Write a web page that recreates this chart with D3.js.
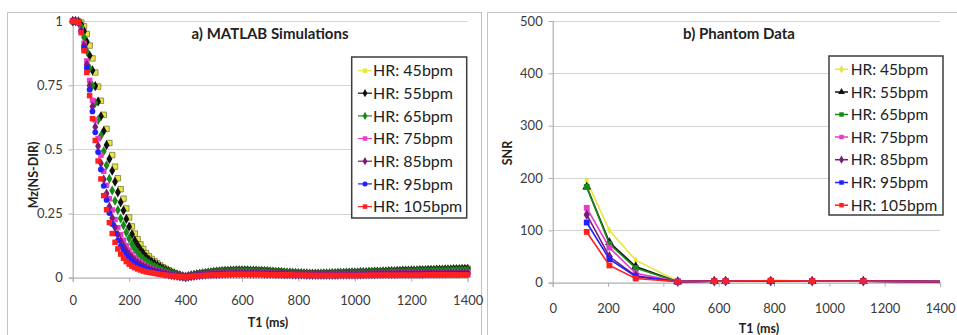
<!DOCTYPE html>
<html><head><meta charset="utf-8">
<script src="https://cdn.jsdelivr.net/npm/d3@7"></script>
<style>
body{margin:0;background:#fff;}
svg{display:block;font-family:Lato,"Open Sans",sans-serif;}
</style>
</head><body>
<svg id="c" width="957" height="335"></svg>
<script>
// ---------- DATA ----------
const seriesNames = ["HR: 45bpm","HR: 55bpm","HR: 65bpm","HR: 75bpm","HR: 85bpm","HR: 95bpm","HR: 105bpm"];
const xTicks = [0,200,400,600,800,1000,1200,1400];
const yTicksA = [0,0.25,0.5,0.75,1];
const yTicksB = [0,100,200,300,400,500];

// a) MATLAB simulations: Mz(NS-DIR) sampled every 10 ms of T1, 0..1400 ms
const simT1 = d3.range(0, 1401, 10);
const sim45 = [1,1,1,.995,.98,.95,.905,.855,.8,.745,.69,.635,.58,.525,.478,.433,.388,.345,.308,.27,.235,.2,.172,.15,.13,.112,.096,.084,.073,.064,.056,.048,.041,.035,.029,.023,.018,.014,.01,.006,.004,
 .006,.009,.011,.014,.016,.018,.019,.021,.022,.024,.025,.026,.027,.028,.029,.029,.03,.03,.03,.03,
 .03,.03,.029,.029,.029,.028,.028,.027,.027,.026,.025,.024,.024,.023,.022,.021,.02,.02,.019,.018,
 .018,.017,.017,.016,.016,.016,.016,.016,.017,.017,
 .017,.018,.018,.019,.019,.019,.02,.02,.021,.021,.021,.022,.022,.022,.023,.023,.024,.024,.024,.025,
 .025,.026,.026,.026,.027,.027,.028,.028,.028,.029,.029,.029,.03,.03,.03,.031,.031,.031,.032,.032,
 .032,.033,.033,.033,.034,.034,.034,.035,.035,.035];
const sim55 = [1,1,.999,.987,.961,.92,.866,.808,.747,.687,.629,.572,.517,.463,.417,.374,.333,.294,.262,.229,.199,.169,.145,.127,.11,.095,.081,.071,.062,.055,.048,.041,.035,.03,.025,.02,.016,.012,.009,.005,.004,
 .006,.009,.011,.013,.015,.017,.018,.02,.021,.023,.024,.025,.026,.027,.027,.028,.028,.029,.029,.029,
 .029,.029,.028,.028,.028,.027,.027,.026,.026,.025,.024,.023,.023,.022,.021,.02,.02,.019,.019,.018,
 .018,.017,.017,.016,.016,.016,.016,.016,.017,.017,
 .017,.018,.018,.019,.019,.019,.02,.02,.021,.021,.021,.022,.022,.022,.023,.023,.024,.024,.024,.025,
 .025,.026,.026,.026,.027,.027,.028,.028,.028,.029,.029,.029,.03,.03,.03,.031,.031,.031,.032,.032,
 .032,.033,.033,.033,.034,.034,.034,.035,.035,.035];
const sim65 = [1,1,.998,.977,.937,.883,.817,.749,.681,.615,.553,.493,.438,.386,.34,.3,.264,.231,.204,.177,.153,.13,.112,.098,.085,.073,.063,.056,.049,.043,.038,.032,.028,.024,.02,.016,.013,.01,.007,.005,.003,
 .005,.007,.009,.011,.013,.015,.016,.017,.019,.02,.021,.022,.023,.023,.024,.024,.025,.025,.025,.025,
 .025,.025,.025,.024,.024,.024,.023,.023,.022,.022,.021,.021,.02,.019,.019,.018,.018,.017,.017,.016,
 .016,.015,.015,.014,.014,.014,.014,.015,.015,.015,
 .015,.016,.016,.016,.017,.017,.017,.017,.018,.018,.018,.018,.019,.019,.019,.02,.02,.02,.021,.021,
 .021,.021,.022,.022,.022,.023,.023,.023,.024,.024,.024,.025,.025,.025,.026,.026,.026,.027,.027,.027,
 .027,.027,.028,.028,.028,.028,.029,.029,.029,.029];
const sim75 = [1,1,.997,.967,.914,.845,.769,.691,.615,.542,.477,.415,.36,.308,.264,.227,.195,.168,.146,.125,.108,.092,.079,.069,.06,.052,.045,.04,.035,.031,.027,.024,.021,.018,.015,.012,.01,.008,.006,.004,.003,
 .005,.006,.008,.009,.011,.012,.013,.014,.015,.016,.017,.017,.018,.018,.019,.019,.02,.02,.02,.02,
 .02,.02,.019,.019,.019,.019,.018,.018,.017,.017,.017,.016,.016,.015,.015,.015,.014,.014,.013,.013,
 .013,.013,.012,.012,.012,.012,.012,.012,.012,.012,
 .012,.012,.013,.013,.013,.013,.013,.014,.014,.014,.014,.014,.015,.015,.015,.015,.015,.016,.016,.016,
 .016,.016,.017,.017,.017,.017,.017,.018,.018,.018,.018,.018,.019,.019,.019,.019,.019,.02,.02,.02,
 .02,.02,.021,.021,.021,.021,.021,.022,.022,.022];
const sim85 = [1,1,.996,.963,.904,.83,.749,.667,.588,.513,.446,.383,.328,.277,.233,.197,.167,.143,.122,.104,.089,.076,.066,.057,.05,.043,.038,.034,.03,.026,.023,.02,.018,.015,.013,.01,.008,.007,.005,.004,.002,
 .004,.006,.007,.009,.01,.011,.012,.013,.013,.014,.014,.015,.015,.016,.016,.016,.017,.017,.017,.017,
 .017,.017,.016,.016,.016,.016,.016,.015,.015,.015,.015,.014,.014,.014,.013,.013,.013,.012,.012,.012,
 .012,.012,.011,.011,.011,.011,.011,.011,.011,.011,
 .011,.011,.011,.011,.012,.012,.012,.012,.012,.012,.012,.012,.013,.013,.013,.013,.013,.014,.014,.014,
 .014,.014,.014,.014,.014,.015,.015,.015,.015,.015,.015,.015,.015,.015,.016,.016,.016,.016,.016,.016,
 .016,.016,.017,.017,.017,.017,.017,.018,.018,.018];
const sim95 = [1,1,.996,.96,.896,.818,.733,.648,.567,.49,.422,.358,.303,.252,.209,.173,.145,.122,.104,.088,.075,.064,.055,.048,.042,.036,.032,.029,.025,.023,.02,.017,.015,.013,.011,.009,.007,.006,.005,.003,.002,
 .004,.005,.006,.008,.009,.01,.01,.011,.011,.012,.012,.013,.013,.014,.014,.014,.015,.015,.015,.015,
 .015,.015,.014,.014,.014,.014,.014,.013,.013,.013,.013,.013,.012,.012,.012,.012,.012,.011,.011,.011,
 .011,.011,.01,.01,.01,.01,.01,.01,.01,.01,
 .01,.01,.01,.01,.01,.011,.011,.011,.011,.011,.011,.011,.011,.011,.011,.012,.012,.012,.012,.012,
 .012,.012,.012,.012,.012,.013,.013,.013,.013,.013,.013,.013,.013,.013,.013,.014,.014,.014,.014,.014,
 .014,.014,.014,.014,.014,.015,.015,.015,.015,.015];
const sim105 = [1,1,.995,.955,.885,.8,.71,.62,.535,.455,.385,.32,.265,.215,.172,.138,.112,.092,.076,.063,.053,.045,.039,.034,.03,.026,.023,.021,.019,.017,.015,.013,.012,.01,.009,.007,.006,.005,.004,.003,.002,
 .003,.005,.006,.007,.008,.009,.009,.01,.01,.011,.011,.012,.012,.012,.013,.013,.013,.013,.013,.013,
 .013,.013,.013,.013,.013,.013,.013,.012,.012,.012,.012,.012,.011,.011,.011,.011,.011,.01,.01,.01,
 .01,.01,.01,.009,.009,.009,.009,.009,.009,.009,
 .009,.009,.009,.009,.009,.009,.009,.009,.009,.009,.009,.009,.009,.009,.01,.01,.01,.01,.01,.01,
 .01,.01,.01,.01,.01,.01,.01,.01,.01,.01,.01,.01,.01,.01,.011,.011,.011,.011,.011,.011,
 .011,.011,.011,.011,.011,.011,.011,.011,.011,.011];

// b) Phantom data: SNR vs T1
const phantomT1 = [123,205,300,452,584,625,788,938,1123,1400];
const snr45  = [195,100,43,3,3,3,3,3,3,2];
const snr55  = [183,77,31,2,3,3,3,3,3,2];
const snr65  = [183,74,28,2,3,3,3,3,3,2];
const snr75  = [143,67,18,2,3,3,3,3,3,2];
const snr85  = [130,50,13,2,3,3,3,3,3,2];
const snr95  = [115,45,12,2,3,3,3,3,3,2];
const snr105 = [97,33,8,2,3,3,4,3,3,2];

// ---------- STYLE ----------
const colors = ["#e6e640","#111111","#178a17","#e63cc8","#7a1a7a","#1f1fff","#ff1f1f"];
const symA = [d3.symbolSquare,d3.symbolDiamond,d3.symbolDiamond,d3.symbolSquare,d3.symbolDiamond,d3.symbolCircle,d3.symbolSquare];
const symB = [d3.symbolDiamond,d3.symbolTriangle,d3.symbolSquare,d3.symbolSquare,d3.symbolDiamond,d3.symbolSquare,d3.symbolSquare];
const simSeries = [sim45,sim55,sim65,sim75,sim85,sim95,sim105];
const snrSeries = [snr45,snr55,snr65,snr75,snr85,snr95,snr105];

const svg = d3.select("#c");
svg.append("rect").attr("width",957).attr("height",335).attr("fill","#fff");
svg.append("rect").attr("x",7.5).attr("y",12.5).attr("width",474).attr("height",340)
  .attr("fill","none").attr("stroke","#c4c4c4");
svg.append("rect").attr("x",487.5).attr("y",12.5).attr("width",480).attr("height",340)
  .attr("fill","none").attr("stroke","#c4c4c4");

function panel(opt){
  const g = svg.append("g");
  const x = d3.scaleLinear([0,1400],[opt.x0,opt.x1]);
  const y = d3.scaleLinear(opt.ydom,[opt.y0,opt.y1]);
  g.append("g").selectAll("line").data(opt.yTicks.filter(d=>d!==0)).join("line")
    .attr("x1",opt.x0).attr("x2",opt.x1)
    .attr("y1",d=>Math.round(y(d))+0.5).attr("y2",d=>Math.round(y(d))+0.5)
    .attr("stroke","#d4d4d4").attr("stroke-width",1.2);
  const ya = g.append("g").attr("transform",`translate(${opt.x0},0)`)
    .call(d3.axisLeft(y).tickValues(opt.yTicks).tickSize(4).tickPadding(6).tickFormat(d=>String(d)));
  const xa = g.append("g").attr("transform",`translate(0,${opt.y0})`)
    .call(d3.axisBottom(x).tickValues(xTicks).tickSize(4).tickPadding(opt.xpad).tickFormat(d=>String(d)));
  [ya,xa].forEach(a=>{
    a.select(".domain").attr("stroke","#b0b0b0").attr("stroke-width",1.2);
    a.selectAll(".tick line").attr("stroke","#b0b0b0");
    a.selectAll("text").attr("fill","#3a3a3a").style("font-size","13px").style("font-family","Lato,'Open Sans',sans-serif");
  });
  g.append("text").attr("x",opt.tx).attr("y",opt.ty).attr("text-anchor","middle")
    .attr("font-weight","bold").attr("font-size","15px").attr("fill","#222").text(opt.title);
  g.append("text").attr("x",opt.xtx).attr("y",opt.xty).attr("text-anchor","middle")
    .attr("font-weight","bold").attr("font-size","12.5px").attr("fill","#222").text("T1 (ms)");
  g.append("text").attr("transform",`translate(${opt.ytx},${opt.yty}) rotate(-90)`).attr("text-anchor","middle")
    .attr("font-weight","bold").attr("font-size","12.5px").attr("fill","#222").text(opt.ylabel);
  return {g,x,y};
}

const A = panel({x0:72.7,x1:467.7,y0:277.7,y1:21.2,ydom:[0,1],yTicks:yTicksA,xpad:14,
  tx:270,ty:39,title:"a) MATLAB Simulations",xtx:268,xty:327,ytx:38,yty:175,ylabel:"Mz(NS-DIR)"});
simSeries.forEach((vals,si)=>{
  A.g.append("g").selectAll("path").data(vals).join("path")
    .attr("transform",(d,i)=>`translate(${A.x(simT1[i])},${A.y(d)})`)
    .attr("d",d3.symbol(symA[si], si===5?26:30))
    .attr("fill",colors[si])
    .attr("stroke",si===0?"#6a6a30":"none").attr("stroke-width",0.7);
});
function legend(g,bx,by,bw,bh,lx0,lx1,tx,ys,syms,lineW,fs){
  g.append("rect").attr("x",bx).attr("y",by).attr("width",bw).attr("height",bh)
    .attr("fill","#fff").attr("stroke","#3c3c3c").attr("stroke-width",1.5);
  seriesNames.forEach((n,i)=>{
    const yy = ys[i];
    g.append("line").attr("x1",lx0).attr("x2",lx1).attr("y1",yy).attr("y2",yy)
      .attr("stroke",colors[i]).attr("stroke-width",lineW);
    g.append("path").attr("transform",`translate(${(lx0+lx1)/2},${yy})`)
      .attr("d",d3.symbol(syms[i],20)).attr("fill",colors[i]);
    g.append("text").attr("x",tx).attr("y",yy).attr("dy","0.36em")
      .attr("font-size",fs).attr("fill","#222").text(n);
  });
}
legend(A.g,351.7,57,115,161,358,372,373,[70.7,93.2,115.9,138.5,161.2,183.9,206.6],symA,1.2,"16px");

const B = panel({x0:552.7,x1:940,y0:282.7,y1:21,ydom:[0,500],yTicks:yTicksB,xpad:17,
  tx:739,ty:39,title:"b) Phantom Data",xtx:759,xty:333,ytx:512,yty:153,ylabel:"SNR"});
const line = d3.line().x((d,i)=>B.x(phantomT1[i])).y(d=>B.y(d));
snrSeries.forEach((vals,si)=>{
  B.g.append("path").attr("d",line(vals)).attr("fill","none")
    .attr("stroke",colors[si]).attr("stroke-width",1.6);
  B.g.append("g").selectAll("path").data(vals.slice(0,vals.length-1)).join("path")
    .attr("transform",(d,i)=>`translate(${B.x(phantomT1[i])},${B.y(d)})`)
    .attr("d",d3.symbol(symB[si], si===0?18:34)).attr("fill",colors[si]);
});
legend(B.g,829,56,114,159,835,848,850.7,[69.3,92,114.5,137,159.7,182.5,205.2],symB,1.5,"15.5px");
</script>
</body></html>
